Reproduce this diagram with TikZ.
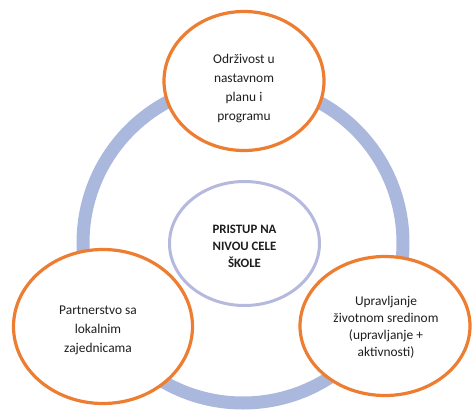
\documentclass[tikz,border=0pt]{standalone}
\usepackage{fontspec}
\setmainfont{Carlito}
\usetikzlibrary{shapes.geometric}

\definecolor{ringblue}{HTML}{AAB8DE}
\definecolor{corelilac}{HTML}{B6B9DE}
\definecolor{pillarorange}{HTML}{ED7D31}
\definecolor{txtgray}{HTML}{1E1E1E}

\tikzset{
  pillar/.style={ellipse, draw=pillarorange, line width=3.2pt, fill=white,
    inner sep=0pt},
  core/.style={ellipse, draw=corelilac, line width=3pt, fill=white,
    inner sep=0pt},
  pillartext/.style={align=center, text=txtgray,
    font=\fontsize{13.4}{19}\selectfont},
  coretext/.style={align=center, text=txtgray,
    font=\fontsize{12.8}{17}\selectfont\bfseries}
}

\begin{document}
\begin{tikzpicture}[x=1pt,y=-1pt]
  \useasboundingbox (0,0) rectangle (472,410);

  % outer ring joining the three pillars
  \node[circle, draw=ringblue, line width=13pt, minimum size=320pt,
    inner sep=0pt] (ring) at (243,243) {};

  \node[core, minimum width=150pt, minimum height=124pt] (whole) at (244.5,243.5) {};
  \node[coretext] (wholetxt) at ([yshift=-3pt]whole.center)
  {PRISTUP NA\\NIVOU CELE\\ŠKOLE};

  \node[pillar, minimum width=160pt, minimum height=139pt] (curriculum) at (244,81) {};
  \node[pillartext] (curriculumtxt) at ([yshift=-7pt]curriculum.center)
  {Održivost u\\nastavnom\\planu i\\programu};

  \node[pillar, minimum width=179pt, minimum height=154pt] (partners) at (103,326.5) {};
  \node[pillartext] (partnerstxt) at ([xshift=-5pt,yshift=-4pt]partners.center)
  {Partnerstvo sa\\lokalnim\\zajednicama};

  \node[pillar, minimum width=170pt, minimum height=139pt] (environment) at (385,326) {};
  \node[pillartext, font=\fontsize{13.4}{17}\selectfont] (environmenttxt)
  at ([xshift=1pt,yshift=-1pt]environment.center)
  {Upravljanje\\životnom sredinom\\(upravljanje +\\aktivnosti)};
\end{tikzpicture}
\end{document}
